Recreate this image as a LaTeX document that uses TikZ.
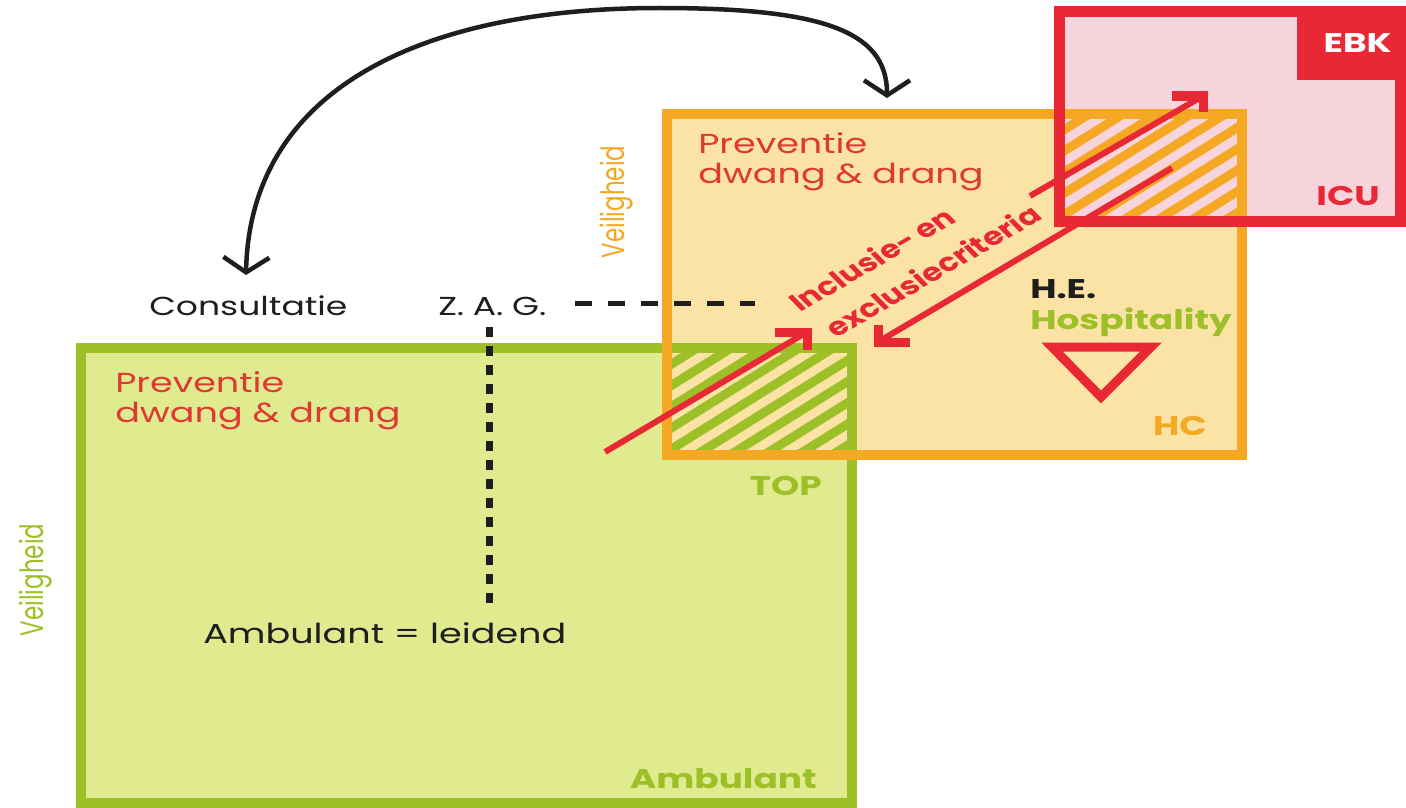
\documentclass[tikz,border=0pt]{standalone}
\usepackage{fontspec}
\setmainfont{Poppins}
\usepackage{graphicx}
\usetikzlibrary{arrows.meta,calc}
\definecolor{grn}{RGB}{157,192,40}
\definecolor{grnfill}{RGB}{224,235,143}
\definecolor{org}{RGB}{245,168,35}
\definecolor{orgfill}{RGB}{251,226,165}
\definecolor{rd}{RGB}{232,40,52}
\definecolor{pinkfill}{RGB}{248,212,220}
\definecolor{txtred}{RGB}{222,58,52}
\definecolor{txtblack}{RGB}{30,30,30}
\begin{document}
\begin{tikzpicture}[x=1pt,y=-1pt,
  wide/.style={xscale=1.33},
  reg/.style={wide, font=\fontsize{26}{33}\selectfont, inner sep=0pt, text=txtblack},
  prev/.style={wide, font=\fontsize{27.5}{29.5}\selectfont, inner sep=0pt, text=txtred, align=left},
  lbl/.style={wide, font=\fontsize{27}{30}\bfseries, inner sep=0pt},
  crit/.style={xscale=1.3, rotate=37, font=\fontsize{25}{30}\bfseries, inner sep=0pt, text=rd, anchor=base west},
  veil/.style={xscale=1.4, rotate=90, font=\fontsize{23}{23}\selectfont, inner sep=0pt},
  redarrow/.style={draw=rd, line width=6pt},
  redhead/.style={draw=rd, line width=9pt, miter limit=10},
  stripe/.style={line width=9pt}
]
\useasboundingbox (0,0) rectangle (1406,808);
% fills
\fill[grnfill] (81,348) rectangle (852,803);
\fill[orgfill] (667,114) rectangle (1242,455);
\fill[pinkfill] (1059,12) rectangle (1401,221);
% hatch green/orange overlap
\begin{scope}
  \clip (672,353) rectangle (847,450);
  \foreach \k in {-6,...,6} {
    \draw[stripe, grn] (672+\k*34, 470) -- ++(300,-187.5);
  }
\end{scope}
% hatch orange/red overlap
\begin{scope}
  \clip (1064,118) rectangle (1238,216);
  \foreach \k in {-6,...,6} {
    \draw[stripe, org] (1064+\k*34, 236) -- ++(300,-187.5);
  }
\end{scope}
% borders
\draw[grn, line width=10pt] (81,348) rectangle (852,803);
\draw[org, line width=10pt] (667,114) rectangle (1242,455);
\draw[rd, line width=11pt] (1059,12) rectangle (1400,221);
\fill[rd] (1297,7) rectangle (1406,80);

% labels
\node[lbl, text=white, anchor=base east] (ebk) at (1392,53) {EBK};
\node[lbl, text=rd, anchor=base east] (icu) at (1380,205) {ICU};
\node[lbl, text=org, anchor=base east] (hc) at (1207,435) {HC};
\node[lbl, text=grn, anchor=base east] (top) at (822,495) {TOP};
\node[lbl, text=grn, anchor=base east] (amb) at (817,788) {Ambulant};
\node[lbl, text=txtblack, anchor=base west] (he) at (1030,298) {H.E.};
\node[lbl, text=grn, anchor=base west] (hosp) at (1030,329) {Hospitality};

\node[prev, anchor=base west] (prevO) at (698,183) {Preventie\\dwang \& drang};
\node[prev, anchor=base west] (prevG) at (115,422) {Preventie\\dwang \& drang};

\node[reg, anchor=base west] (cons) at (149,315) {Consultatie};
\node[reg, anchor=base west] (zag) at (438,315) {Z.\kern6.5pt A.\kern6.5pt G.};
\node[reg, font=\fontsize{27.5}{33}\selectfont, anchor=base west] (ambl) at (203,643) {Ambulant = leidend};

\node[veil, text=org] (veilO) at (617,202) {Veiligheid};
\node[veil, text=grn] (veilG) at (36,580) {Veiligheid};

% dashed connections
\coordinate (dashS) at (575,303);
\coordinate (dashE) at (755,303);
\draw[txtblack, line width=5pt, dash pattern=on 17pt off 16pt] (dashS) -- (dashE);
\coordinate (dotS) at (489,327);
\coordinate (dotE) at (489,608);
\draw[txtblack, line width=7pt, dash pattern=on 10pt off 9pt] (dotS) -- (dotE);

% triangle
\draw[rd, line width=9pt] (1052,347) -- (1151,347) -- (1101,397) -- cycle;

% criteria text
\node[crit] (incl) at (800,313) {Inclusie- en};
\node[crit] (excl) at (836,339) {exclusiecriteria};

% red arrows
\coordinate (a1s) at (605,452);
\coordinate (a1t) at (807,332);
\draw[redarrow] (a1s) -- (a1t);
\draw[redhead] ($(a1t)+(-32,0)$) -- (a1t) -- ($(a1t)+(0,18)$);

\coordinate (a2s) at (1030,196);
\coordinate (a2t) at (1203,96);
\draw[redarrow] (a2s) -- (a2t);
\draw[redhead] ($(a2t)+(-31,0)$) -- (a2t) -- ($(a2t)+(0,16)$);

\coordinate (a3s) at (1172,168);
\coordinate (a3t) at (878,342);
\draw[redarrow] (a3s) -- (a3t);
\draw[redhead] ($(a3t)+(32,0)$) -- (a3t) -- ($(a3t)+(0,-17)$);

% curved black arrow
\coordinate (cL) at (246,275);
\coordinate (cR) at (887,98);
\draw[txtblack, line width=4.5pt, {Straight Barb[length=15pt,width=46pt]}-{Straight Barb[length=15pt,width=46pt]}]
  (cL) .. controls (250,90) and (420,8) .. (659,8) .. controls (820,8) and (887,30) .. (cR);
\end{tikzpicture}
\end{document}
